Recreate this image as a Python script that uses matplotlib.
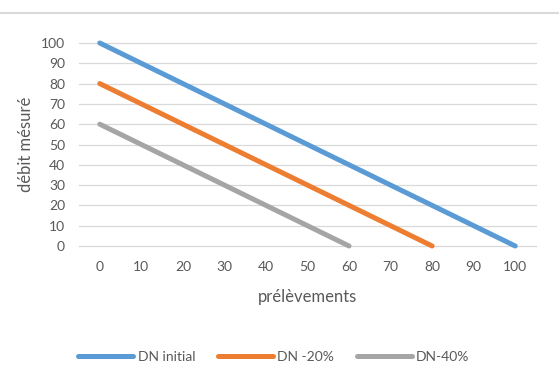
import matplotlib
matplotlib.use("Agg")
import matplotlib.pyplot as plt
from matplotlib.lines import Line2D

plt.rcParams["font.family"] = ["Lato", "DejaVu Sans"]

# données
prelevements = [0, 10, 20, 30, 40, 50, 60, 70, 80, 90, 100]
dn_initial = [100, 90, 80, 70, 60, 50, 40, 30, 20, 10, 0]
dn_moins20 = [80, 70, 60, 50, 40, 30, 20, 10, 0, None, None]
dn_moins40 = [60, 50, 40, 30, 20, 10, 0, None, None, None, None]
y_ticks = [0, 10, 20, 30, 40, 50, 60, 70, 80, 90, 100]

series = [
    ("DN initial", dn_initial, "#5B9BD5"),
    ("DN -20%", dn_moins20, "#ED7D31"),
    ("DN-40%", dn_moins40, "#A5A5A5"),
]

W, H = 559, 365
fig = plt.figure(figsize=(W / 100, H / 100), dpi=100)
ax = fig.add_axes([79 / W, 1 - 246 / H, (536 - 79) / W, (246 - 43) / H])

for ytk in y_ticks:
    ax.axhline(ytk, color="#D9D9D9", lw=0.9, zorder=1, clip_on=False)

handles = []
for label, vals, color in series:
    xs = [x for x, v in zip(prelevements, vals) if v is not None]
    ys = [v for v in vals if v is not None]
    (ln,) = ax.plot(xs, ys, color=color, lw=3.6, solid_capstyle="round",
                    label=label, zorder=3, clip_on=False)
    handles.append(ln)

ax.set_xlim(-5, 105)
ax.set_ylim(0, 100)
ax.set_xticks(prelevements)
ax.set_yticks(y_ticks)
ax.tick_params(axis="x", length=0, pad=11, labelsize=10, colors="#595959")
ax.tick_params(axis="y", length=0, pad=10, labelsize=10, colors="#595959")
for spine in ax.spines.values():
    spine.set_visible(False)

ax.set_xlabel("prélèvements", fontsize=12, color="#595959", labelpad=11)
ax.set_ylabel("débit mésuré", fontsize=12, color="#595959", labelpad=5)

fig.legend(handles=handles, loc="center", bbox_to_anchor=(274 / W, 1 - 357 / H),
           ncol=3, frameon=False, fontsize=10, labelcolor="#595959",
           handlelength=3.96, handletextpad=0.3, columnspacing=1.65,
           borderpad=0, borderaxespad=0)

# trait gris en haut
fig.add_artist(Line2D([0, 1], [1 - 13 / H, 1 - 13 / H], color="#D9D9D9", lw=1.5,
                      transform=fig.transFigure))

fig.savefig("out.png", dpi=100, facecolor="white")
